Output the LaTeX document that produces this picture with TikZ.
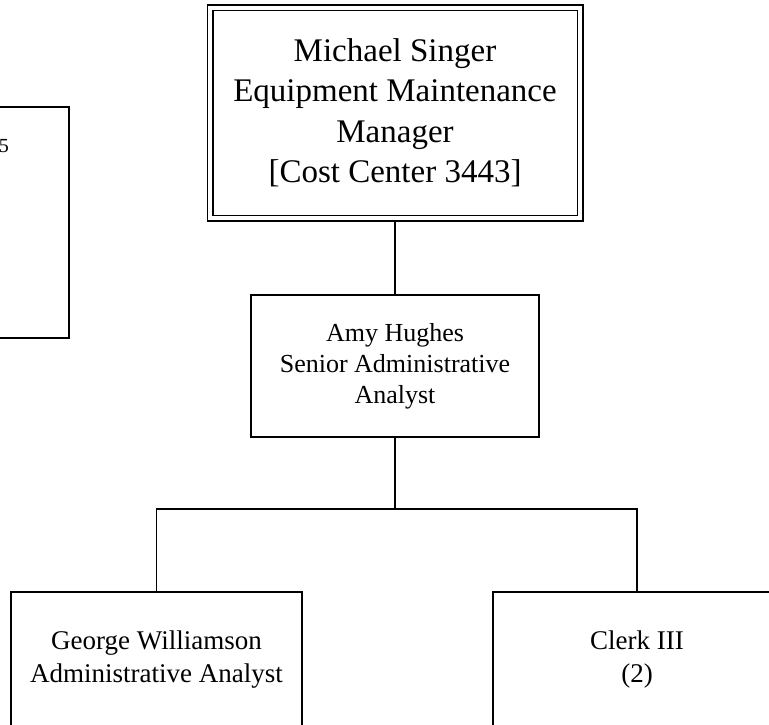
\documentclass[tikz,border=0pt]{standalone}
\usepackage{fontspec}
\setmainfont{Liberation Serif}
\usetikzlibrary{positioning}
\begin{document}
\begin{tikzpicture}[x=1pt,y=-1pt,
  card/.style={draw,line width=1.8pt,align=center,inner sep=4pt,outer sep=0pt,font=\fontsize{27}{33}\selectfont},
  head/.style={card,double,double distance=3.4pt,line width=1.8pt,font=\fontsize{33}{40.5}\selectfont},
  link/.style={line width=1.8pt}]
\useasboundingbox (0,0) rectangle (769,725);
\clip (0,0) rectangle (769,725);
\node[head,minimum width=370pt,minimum height=210pt] (mgr) at (395,113)
 {Michael Singer\\Equipment Maintenance\\Manager\\{[}Cost Center 3443{]}};
\node[card,minimum width=288pt,minimum height=142pt,font=\fontsize{26}{31}\selectfont] (amy) at (395,366)
 {Amy Hughes\\Senior Administrative\\Analyst};
\node[card,anchor=north,minimum width=291pt,minimum height=136pt] (wil) at (156.5,592)
 {George Williamson\\Administrative Analyst};
\node[card,anchor=north,minimum width=288pt,minimum height=136pt] (clk) at (637,592)
 {Clerk III\\(2)};
\node[card,anchor=north east,minimum width=120pt,minimum height=231pt] (lft) at (69,107) {};
\node[anchor=base east,inner sep=0pt,font=\fontsize{20}{24}\selectfont] (lftnum) at (9,152) {5};
\coordinate (fork) at (395,509);
\draw[link,shorten <=2.2pt] (mgr) -- (amy);
\draw[link] (amy) -- (fork);
\draw[link] (wil) |- (fork) -| (clk);
\end{tikzpicture}
\end{document}
